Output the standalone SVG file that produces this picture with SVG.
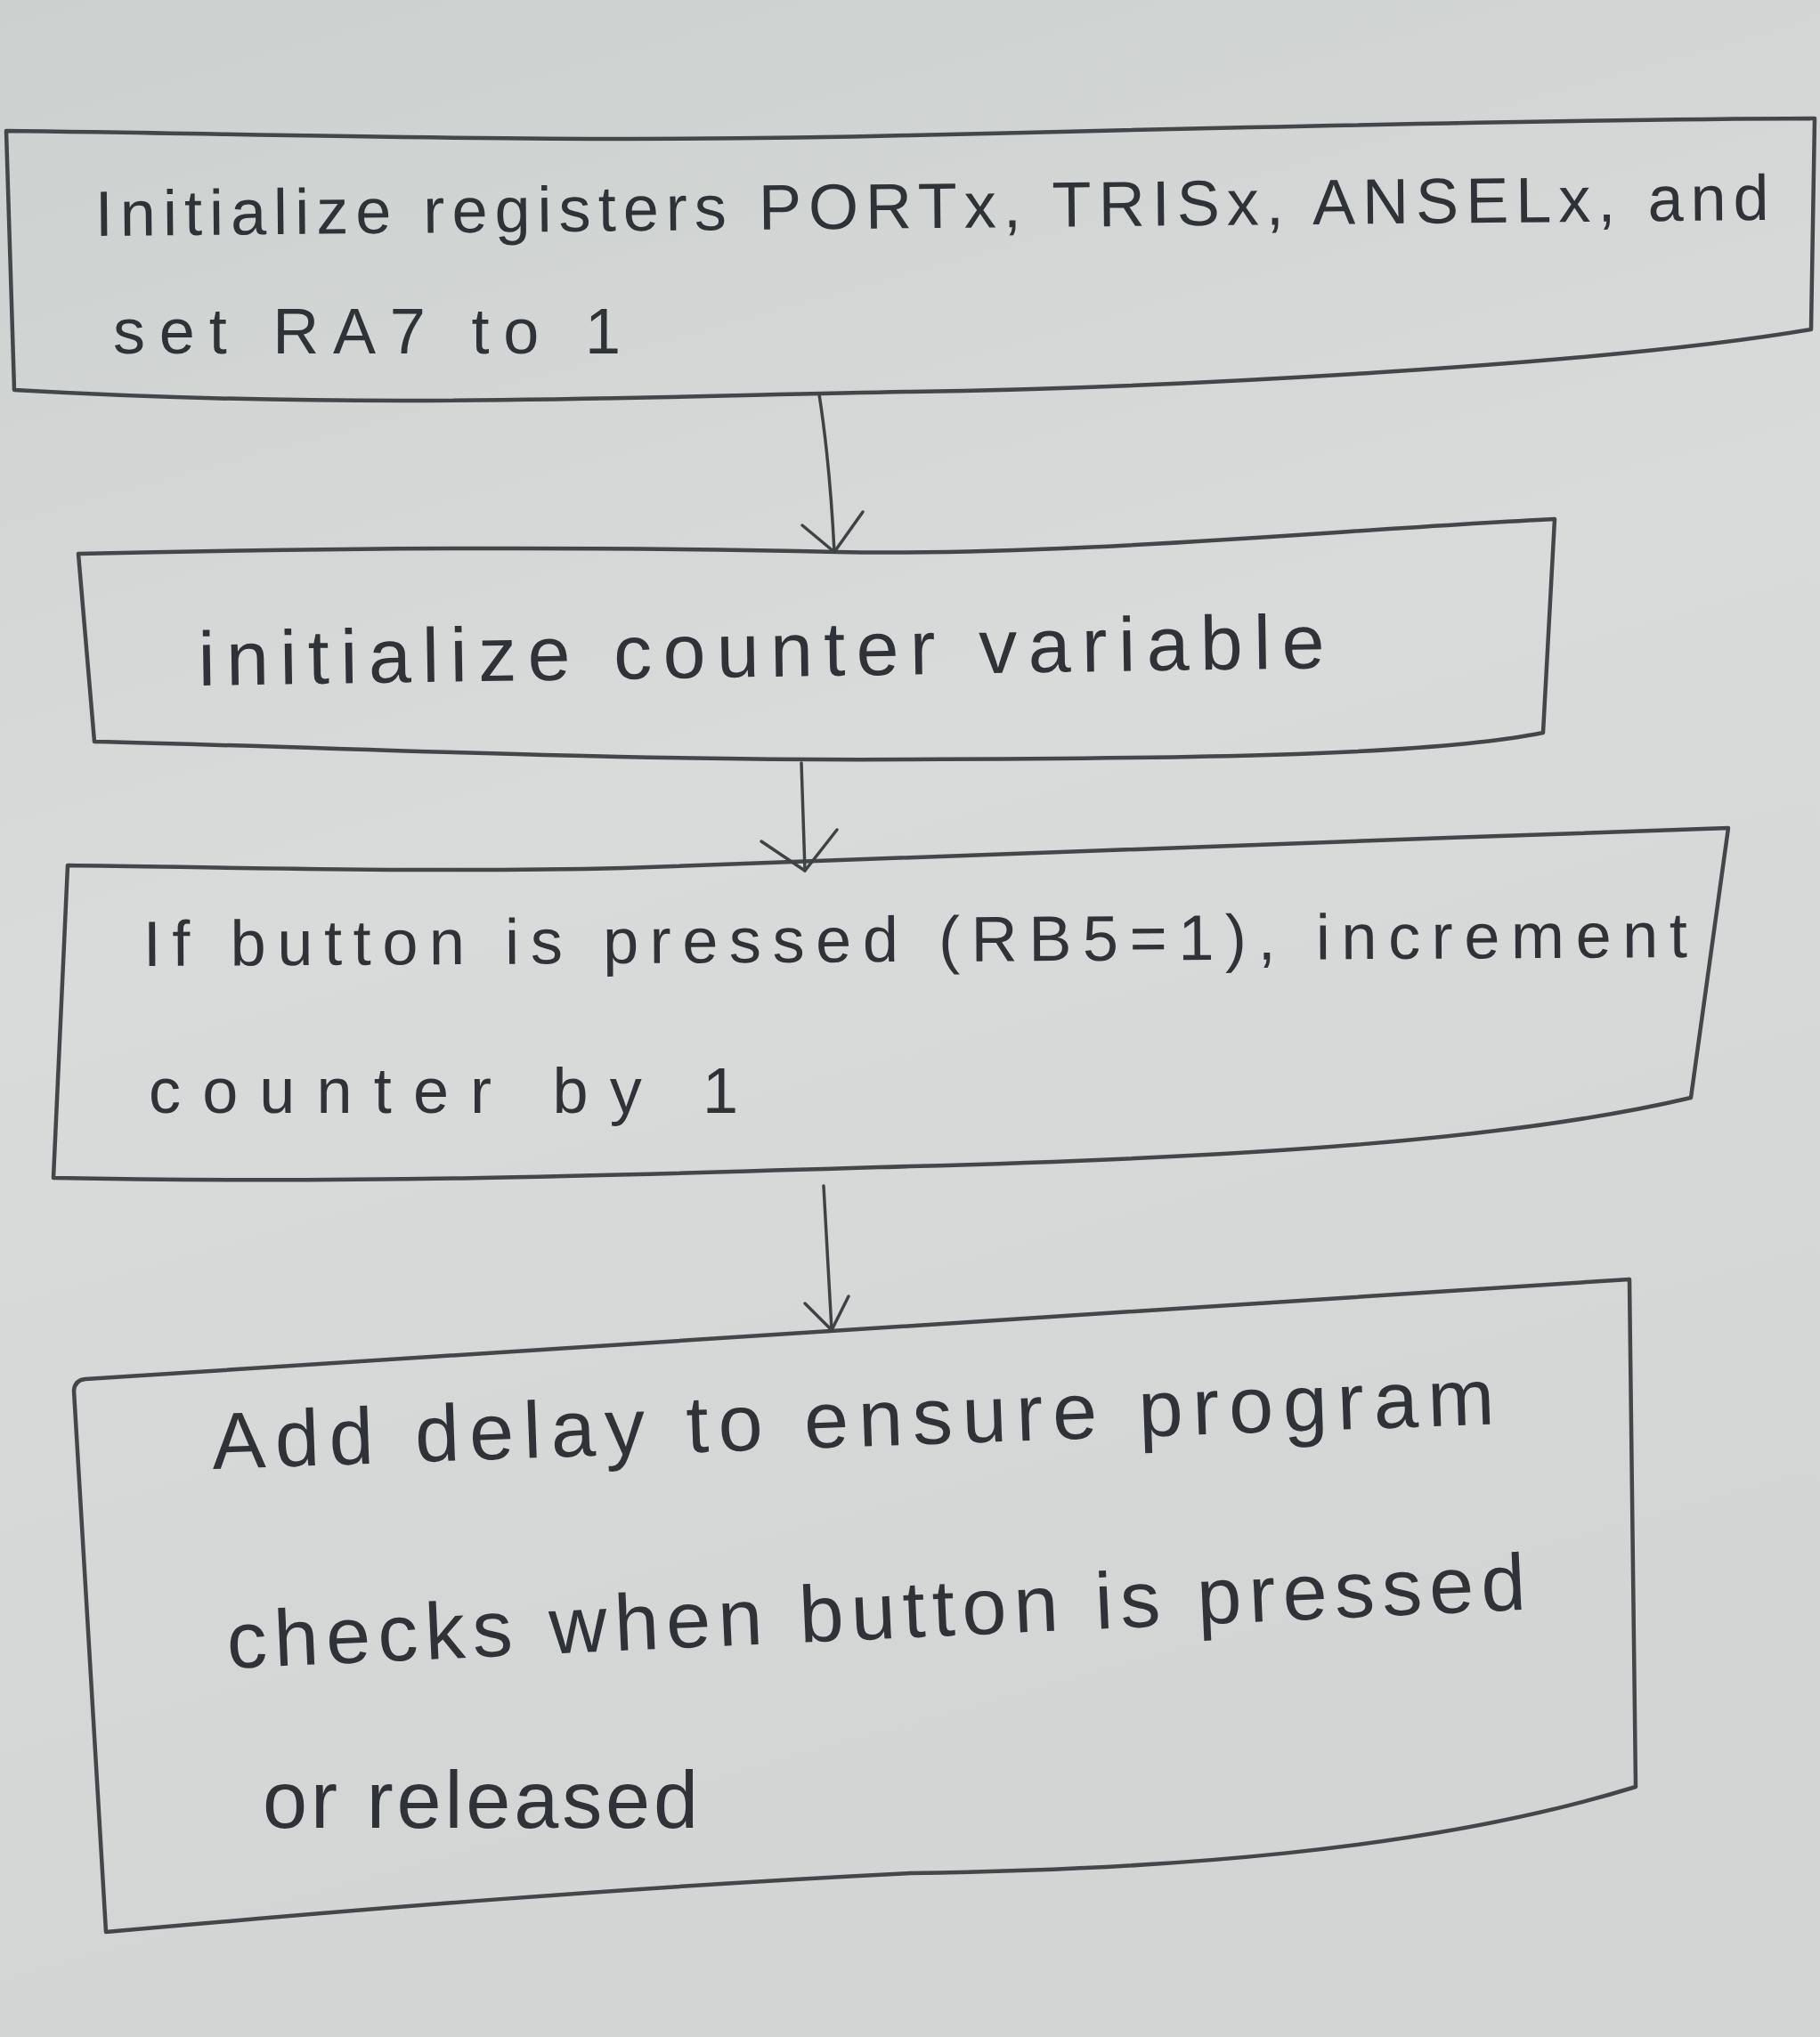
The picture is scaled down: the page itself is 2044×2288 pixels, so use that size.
<svg xmlns="http://www.w3.org/2000/svg" width="2044" height="2288" viewBox="0 0 2044 2288">
  <defs>
    <linearGradient id="paper" x1="0" y1="0" x2="0.25" y2="1">
      <stop offset="0" stop-color="#ccd0cf"/>
      <stop offset="0.45" stop-color="#d8dbda"/>
      <stop offset="1" stop-color="#d2d5d4"/>
    </linearGradient>
    <style>
      .box { fill: none; stroke: #43474a; stroke-width: 4.5; stroke-linejoin: round; stroke-linecap: round; }
      .wire { fill: none; stroke: #3f4346; stroke-width: 3.5; stroke-linecap: round; stroke-linejoin: round; }
      .label { font-family: "Liberation Sans", "DejaVu Sans", sans-serif; fill: #2f3337; }
    </style>
  </defs>

  <!-- sheet of paper -->
  <rect x="0" y="0" width="2044" height="2288" fill="url(#paper)"/>

  <!-- step 1: register setup -->
  <g id="init-registers">
    <path class="box" d="M7,147 C300,150 640,162 1022,152 C1500,140 1800,134 2038,133 L2034,370 C1800,410 1300,436 1022,440 C700,446 400,460 16,438 Z"/>
    <text class="label" font-size="72" x="107" y="265" textLength="1880" lengthAdjust="spacing" transform="rotate(-0.55 107 265)">Initialize registers PORTx, TRISx, ANSELx, and</text>
    <text class="label" font-size="72" x="127" y="397" textLength="570" lengthAdjust="spacing">set RA7 to 1</text>
  </g>

  <!-- step 2: counter setup -->
  <g id="init-counter">
    <path class="box" d="M88,622 C300,617 600,612 940,620 C1200,625 1500,595 1746,583 L1733,823 C1600,850 1300,852 1022,853 C700,855 400,840 106,833 Z"/>
    <text class="label" font-size="86" x="223" y="770" textLength="1265" lengthAdjust="spacing" transform="rotate(-0.9 223 770)">initialize counter variable</text>
  </g>

  <!-- step 3: button check -->
  <g id="check-button">
    <path class="box" d="M76,972 C300,975 500,980 700,975 C1000,965 1500,945 1941,930 L1899,1233 C1700,1280 1400,1300 1022,1310 C700,1320 400,1330 60,1323 Z"/>
    <text class="label" font-size="72" x="161" y="1085" textLength="1734" lengthAdjust="spacing" transform="rotate(-0.33 161 1085)">If button is pressed (RB5=1), increment</text>
    <text class="label" font-size="72" x="167" y="1250" textLength="662" lengthAdjust="spacing">counter by 1</text>
  </g>

  <!-- step 4: debounce delay -->
  <g id="add-delay">
    <path class="box" d="M96,1549 C500,1525 1300,1470 1830,1437 L1837,2007 C1600,2080 1300,2100 1022,2104 C700,2120 400,2145 119,2170 L83,1562 Q84,1550 96,1549 Z"/>
    <text class="label" font-size="90" x="239" y="1650" textLength="1441" lengthAdjust="spacing" transform="rotate(-2 239 1650)">Add delay to ensure program</text>
    <text class="label" font-size="90" x="256" y="1874" textLength="1460" lengthAdjust="spacing" transform="rotate(-2.6 256 1874)">checks when button is pressed</text>
    <text class="label" font-size="90" x="295" y="2053" textLength="489" lengthAdjust="spacing">or released</text>
  </g>

  <!-- arrows between steps -->
  <g id="connectors">
    <path class="wire" d="M920,443 Q932,520 937,620"/>
    <path class="wire" d="M901,590 L937,620 L969,575"/>
    <path class="wire" d="M900,857 L904,978"/>
    <path class="wire" d="M855,945 L904,978 L940,932"/>
    <path class="wire" d="M925,1332 L934,1494"/>
    <path class="wire" d="M904,1464 L934,1494 L953,1456"/>
  </g>
</svg>
